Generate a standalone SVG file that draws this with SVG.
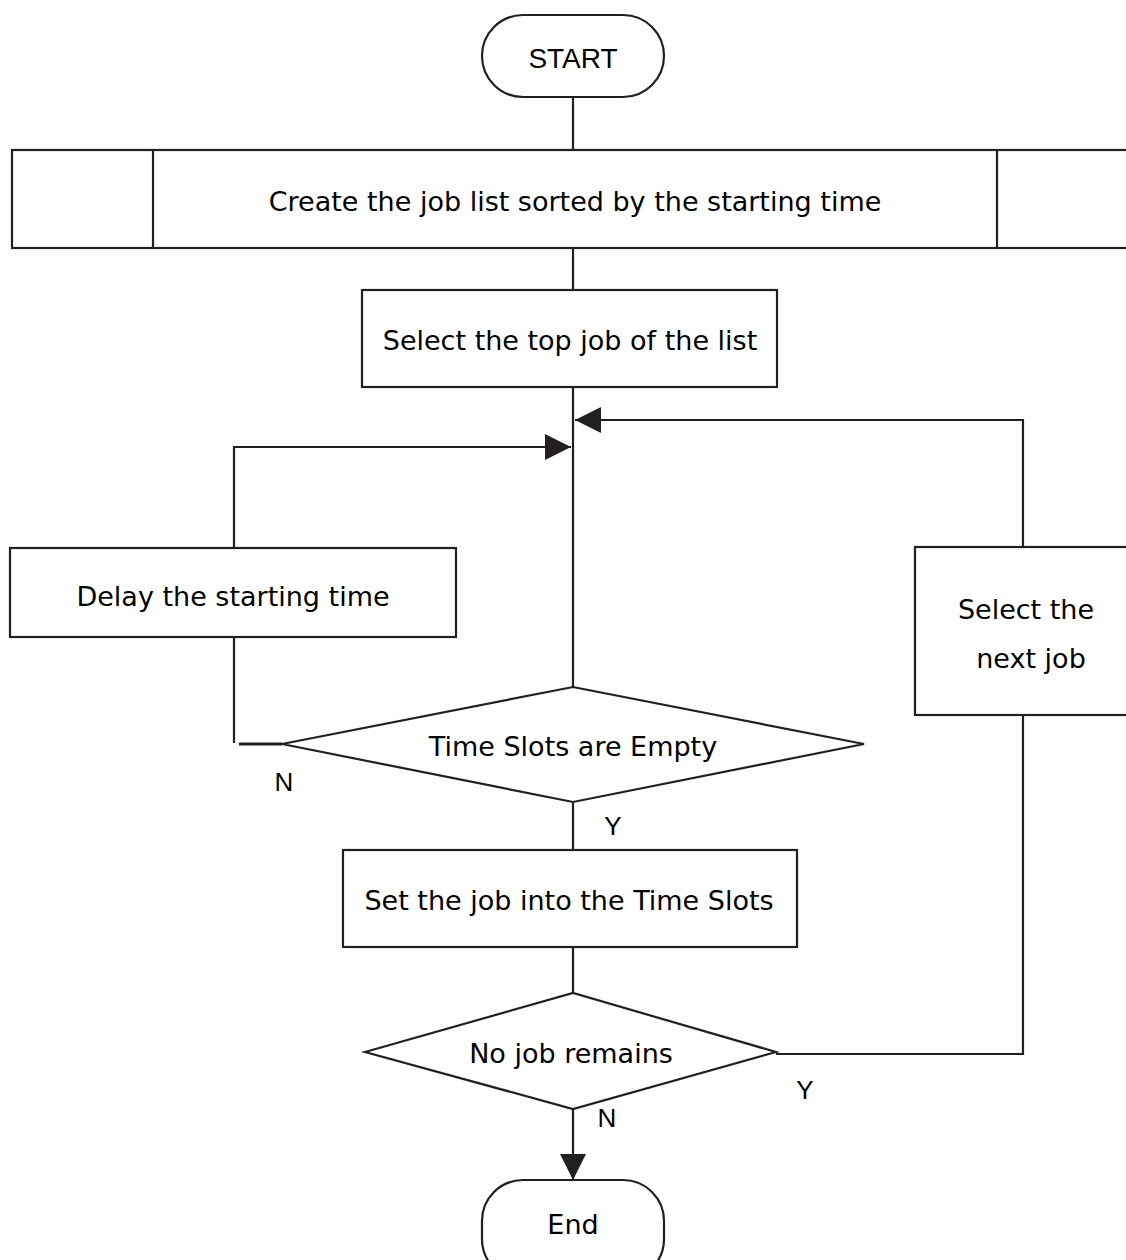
<svg xmlns="http://www.w3.org/2000/svg" width="1126" height="1260" viewBox="0 0 1126 1260">
  <style>
    .box { fill: #ffffff; stroke: #231f20; stroke-width: 2.2; }
    .line { fill: none; stroke: #231f20; stroke-width: 2.2; }
    .lbl { font-family: "DejaVu Sans", Verdana, sans-serif; font-size: 27px; fill: #000000; text-anchor: middle; dominant-baseline: central; }
    .tag { font-family: "Liberation Sans", Arial, sans-serif; font-size: 26px; fill: #000000; text-anchor: middle; dominant-baseline: central; }
  </style>
  <defs>
    <marker id="arrow" markerWidth="26" markerHeight="26" refX="26" refY="13" orient="auto" markerUnits="userSpaceOnUse">
      <path d="M0,0 L26,13 L0,26 Z" fill="#231f20"/>
    </marker>
  </defs>
  <rect width="1126" height="1260" fill="#ffffff"/>

  <!-- connectors -->
  <g id="connectors">
    <line class="line" x1="573" y1="97" x2="573" y2="150"/>
    <line class="line" x1="573" y1="248" x2="573" y2="290"/>
    <line class="line" x1="573" y1="387" x2="573" y2="687"/>
    <!-- loop back from "Select the next job" -->
    <polyline class="line" points="1023,547 1023,420 575,420" marker-end="url(#arrow)"/>
    <!-- loop back from "Delay the starting time" -->
    <polyline class="line" points="234,548 234,447 571,447" marker-end="url(#arrow)"/>
    <line class="line" x1="234" y1="637" x2="234" y2="743"/>
    <line class="line" x1="239" y1="744" x2="282" y2="744" style="stroke-width:3"/>
    <line class="line" x1="573" y1="802" x2="573" y2="850"/>
    <line class="line" x1="573" y1="947" x2="573" y2="993"/>
    <polyline class="line" points="776,1054 1023,1054 1023,715"/>
    <line class="line" x1="573" y1="1109" x2="573" y2="1180" marker-end="url(#arrow)"/>
  </g>

  <g id="start">
    <rect class="box" x="482" y="15" width="182" height="82" rx="41" ry="41"/>
    <text class="tag" x="573" y="58" style="font-size:28px">START</text>
  </g>

  <g id="create-list">
    <rect class="box" x="12" y="150" width="1130" height="98"/>
    <line class="line" x1="153" y1="150" x2="153" y2="248"/>
    <line class="line" x1="997" y1="150" x2="997" y2="248"/>
    <text class="lbl" x="575" y="201">Create the job list sorted by the starting time</text>
  </g>

  <g id="select-top">
    <rect class="box" x="362" y="290" width="415" height="97"/>
    <text class="lbl" x="570" y="340">Select the top job of the list</text>
  </g>

  <g id="delay">
    <rect class="box" x="10" y="548" width="446" height="89"/>
    <text class="lbl" x="233" y="596">Delay the starting time</text>
  </g>

  <g id="select-next">
    <rect class="box" x="915" y="547" width="230" height="168"/>
    <text class="lbl" x="1026" y="609">Select the</text>
    <text class="lbl" x="1031" y="658">next job</text>
  </g>

  <g id="slots-empty">
    <polygon class="box" points="282,744 573,687 864,744 573,802"/>
    <text class="lbl" x="573" y="746">Time Slots are Empty</text>
    <text class="tag" x="284" y="782">N</text>
    <text class="tag" x="613" y="826">Y</text>
  </g>

  <g id="set-job">
    <rect class="box" x="343" y="850" width="454" height="97"/>
    <text class="lbl" x="569" y="900">Set the job into the Time Slots</text>
  </g>

  <g id="no-job-remains">
    <polygon class="box" points="365,1052 573,993 776,1052 573,1109"/>
    <text class="lbl" x="571" y="1053">No job remains</text>
    <text class="tag" x="805" y="1090">Y</text>
    <text class="tag" x="607" y="1118">N</text>
  </g>

  <g id="end">
    <rect class="box" x="482" y="1180" width="182" height="100" rx="41" ry="41"/>
    <text class="lbl" x="573" y="1224">End</text>
  </g>
</svg>
